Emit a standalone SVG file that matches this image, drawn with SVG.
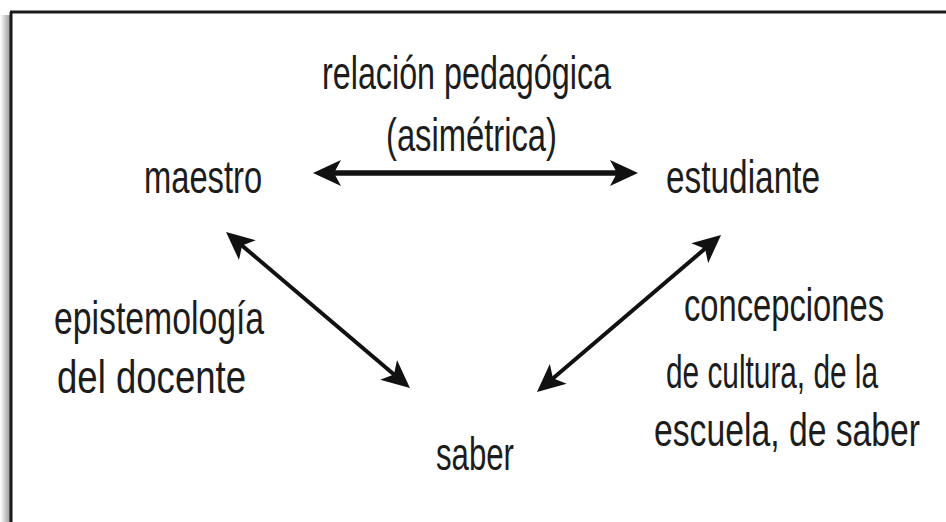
<svg xmlns="http://www.w3.org/2000/svg" width="946" height="522" viewBox="0 0 946 522">
  <style>
    .t { font-family: "Liberation Sans", Arial, sans-serif; font-size: 46px; fill: #1c1c1c; }
    .c { stroke: #111; fill: none; stroke-linecap: butt; }
  </style>
  <defs>
    <linearGradient id="shadow" x1="0" y1="0" x2="1" y2="0">
      <stop offset="0" stop-color="#ffffff"/>
      <stop offset="1" stop-color="#9a9a9a"/>
    </linearGradient>
    <marker id="ah" viewBox="0 0 28 28" refX="16" refY="14" markerWidth="28" markerHeight="28" markerUnits="userSpaceOnUse" orient="auto-start-reverse">
      <path d="M28,14 L0,1 L7,14 L0,27 Z" fill="#111"/>
    </marker>
  </defs>
  <rect width="946" height="522" fill="#ffffff"/>
  <g id="frame">
    <rect x="0" y="15" width="10" height="507" fill="url(#shadow)"/>
    <line x1="11" y1="12" x2="11" y2="522" stroke="#1a1a1a" stroke-width="3"/>
    <line x1="10" y1="12" x2="946" y2="12" stroke="#1a1a1a" stroke-width="3"/>
  </g>
  <g id="connectors">
    <line class="c" x1="325" y1="173" x2="626" y2="173" stroke-width="5.5" marker-start="url(#ah)" marker-end="url(#ah)"/>
    <line class="c" x1="235.2" y1="239.8" x2="400.8" y2="380.2" stroke-width="4" marker-start="url(#ah)" marker-end="url(#ah)"/>
    <line class="c" x1="711.9" y1="242.8" x2="546.1" y2="384.2" stroke-width="4" marker-start="url(#ah)" marker-end="url(#ah)"/>
  </g>
  <g id="label-relacion">
    <text class="t" transform="translate(322,89) scale(0.702,1)">relación pedagógica</text>
    <text class="t" transform="translate(386,151) scale(0.712,1)">(asimétrica)</text>
  </g>
  <g id="node-maestro">
    <text class="t" transform="translate(144,193) scale(0.711,1)">maestro</text>
  </g>
  <g id="node-estudiante">
    <text class="t" transform="translate(666,193) scale(0.726,1)">estudiante</text>
  </g>
  <g id="node-saber">
    <text class="t" transform="translate(436,470) scale(0.678,1)">saber</text>
  </g>
  <g id="label-epistemologia">
    <text class="t" transform="translate(54,334) scale(0.734,1)">epistemología</text>
    <text class="t" transform="translate(57,393) scale(0.795,1)">del docente</text>
  </g>
  <g id="label-concepciones">
    <text class="t" transform="translate(684,321) scale(0.711,1)">concepciones</text>
    <text class="t" transform="translate(666,388) scale(0.648,1)">de cultura, de la</text>
    <text class="t" transform="translate(654,446) scale(0.733,1)">escuela, de saber</text>
  </g>
</svg>
